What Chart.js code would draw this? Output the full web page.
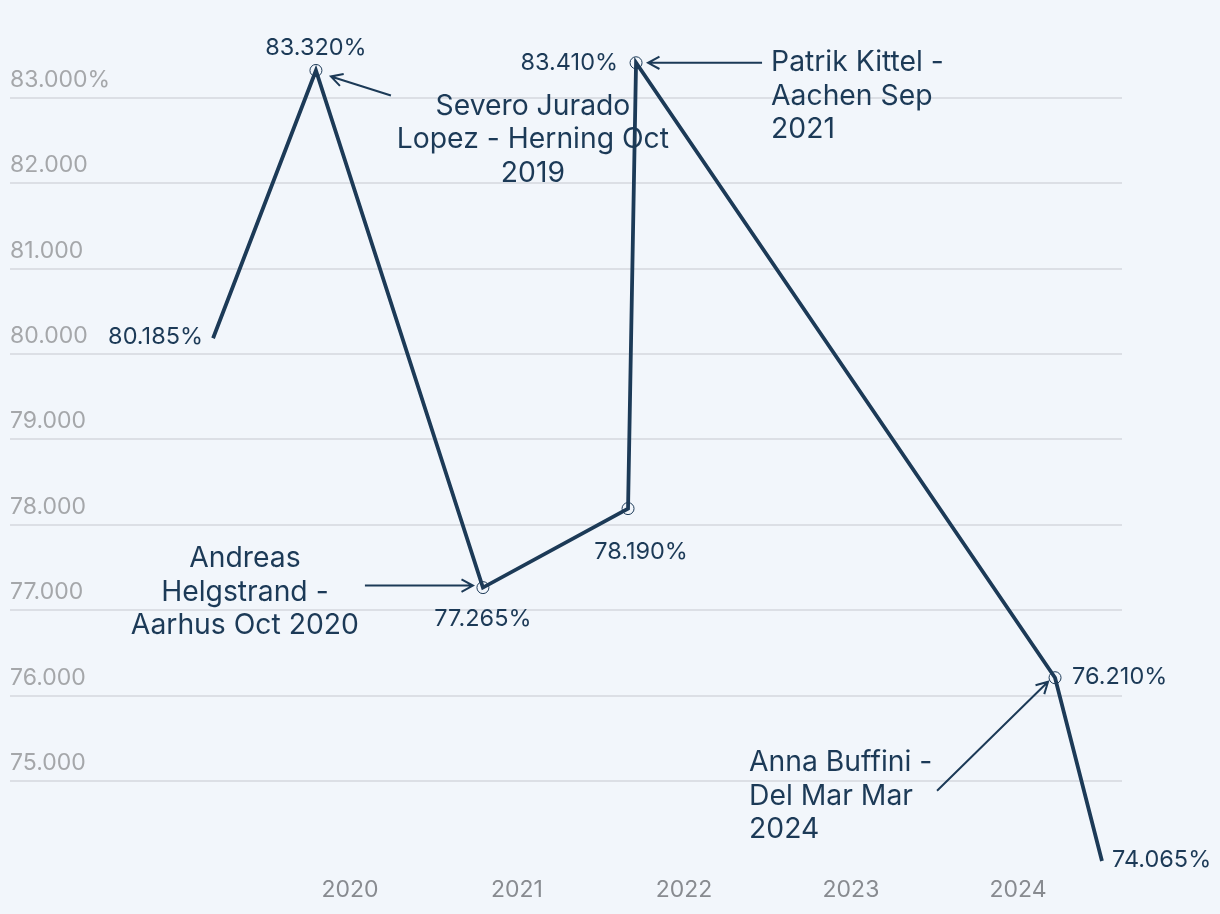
<!DOCTYPE html>
<html>
<head>
<meta charset="utf-8">
<script src="https://cdn.jsdelivr.net/npm/chart.js@4.4.1/dist/chart.umd.min.js"></script>
<style>
  html, body { margin: 0; padding: 0; background: #f2f6fb; }
  #wrap { width: 1220px; height: 914px; position: relative; }
</style>
</head>
<body>
<div id="wrap"><canvas id="scoreChart"></canvas></div>
<script>
// Chart data (decimal years on x)
const dates = [2019.18, 2019.796, 2020.796, 2021.665, 2021.713, 2024.222, 2024.503];
const scores = [80.185, 83.32, 77.265, 78.19, 83.41, 76.21, 74.065];
const yTicks = [75, 76, 77, 78, 79, 80, 81, 82, 83];
const xTicks = [2020, 2021, 2022, 2023, 2024];
const markerRadius = [0, 6, 6, 6, 6, 6, 0];

// Rider annotations: which point, text lines
const noteIndex = [1, 4, 2, 5];
const noteLines = [
  ['Severo Jurado', 'Lopez - Herning Oct', '2019'],
  ['Patrik Kittel -', 'Aachen Sep', '2021'],
  ['Andreas', 'Helgstrand -', 'Aarhus Oct 2020'],
  ['Anna Buffini -', 'Del Mar Mar', '2024']
];

const navy = '#1c3a57';
Chart.defaults.font.family = 'Inter, "Noto Sans", sans-serif';

// where the value label sits, relative to its point
const valuePos = [
  { dx: -10, dy: -1, align: 'right' },
  { dx: 0, dy: -23, align: 'center' },
  { dx: 0, dy: 31, align: 'center' },
  { dx: 13, dy: 43, align: 'center' },
  { dx: -18, dy: 0, align: 'right' },
  { dx: 17, dy: -1, align: 'left' },
  { dx: 10, dy: -1, align: 'left' }
];

// arrow (from -> to) and text block, relative to the annotated point
const noteLayout = [
  { ax: 75, ay: 25, bx: 15, by: 6, tx: 217, ty: 36, align: 'center' },
  { ax: 126, ay: 0, bx: 12, by: 0, tx: 135, ty: 0, align: 'left' },
  { ax: -118, ay: -2, bx: -10, by: -2, tx: -238, ty: -29, align: 'center' },
  { ax: -118, ay: 113, bx: -7, by: 4, tx: -306, ty: 85, align: 'left' }
];

function drawArrow(ctx, x1, y1, x2, y2) {
  const ang = Math.atan2(y2 - y1, x2 - x1);
  const head = 13;
  ctx.beginPath();
  ctx.moveTo(x1, y1);
  ctx.lineTo(x2, y2);
  ctx.moveTo(x2 - head * Math.cos(ang - 0.5), y2 - head * Math.sin(ang - 0.5));
  ctx.lineTo(x2, y2);
  ctx.lineTo(x2 - head * Math.cos(ang + 0.5), y2 - head * Math.sin(ang + 0.5));
  ctx.stroke();
}

const labelPlugin = {
  id: 'labels',
  afterDatasetsDraw(chart) {
    const ctx = chart.ctx;
    const pts = chart.getDatasetMeta(0).data;
    ctx.save();
    ctx.fillStyle = navy;
    ctx.strokeStyle = navy;
    ctx.textBaseline = 'middle';

    // value labels
    ctx.font = '23.5px Inter';
    pts.forEach((p, i) => {
      const v = valuePos[i];
      ctx.textAlign = v.align;
      ctx.fillText(scores[i].toFixed(3) + '%', p.x + v.dx, p.y + v.dy);
    });

    // annotations
    ctx.lineWidth = 2;
    ctx.font = '28.3px Inter';
    noteIndex.forEach((idx, n) => {
      const p = pts[idx];
      const l = noteLayout[n];
      drawArrow(ctx, p.x + l.ax, p.y + l.ay, p.x + l.bx, p.y + l.by);
      ctx.textAlign = l.align;
      noteLines[n].forEach((line, k) => {
        ctx.fillText(line, p.x + l.tx, p.y + l.ty + k * 33.5);
      });
    });
    ctx.restore();
  }
};

new Chart(document.getElementById('scoreChart'), {
  type: 'line',
  data: {
    datasets: [{
      data: dates.map((d, i) => ({ x: d, y: scores[i] })),
      borderColor: navy,
      borderWidth: 3.8,
      pointRadius: markerRadius,
      pointBorderWidth: 1,
      pointBorderColor: navy,
      pointBackgroundColor: 'rgba(0,0,0,0)',
      tension: 0,
      clip: false
    }]
  },
  options: {
    responsive: true,
    maintainAspectRatio: false,
    animation: false,
    layout: { padding: { left: 10, right: 98, top: 38, bottom: 0 } },
    plugins: {
      legend: { display: false },
      tooltip: { enabled: false }
    },
    scales: {
      x: {
        type: 'linear',
        min: 2017.964,
        max: 2024.623,
        afterBuildTicks: s => { s.ticks = xTicks.map(v => ({ value: v })); },
        afterFit: s => { s.height = 39; },
        grid: { display: false },
        border: { display: false },
        ticks: {
          padding: -7,
          color: '#888b90',
          font: { size: 23 },
          callback: v => String(v)
        }
      },
      y: {
        min: 73.9,
        max: 83.7,
        afterBuildTicks: s => { s.ticks = yTicks.map(v => ({ value: v })); },
        afterFit: s => { s.width = 0; },
        grid: { color: '#dcdfe5', lineWidth: 2, drawTicks: false },
        border: { display: false },
        ticks: {
          mirror: true,
          padding: 0,
          labelOffset: -18,
          color: '#a5a7aa',
          font: { size: 23 },
          callback: v => v === 83 ? '83.000%' : v.toFixed(3)
        }
      }
    }
  },
  plugins: [labelPlugin]
});
</script>
</body>
</html>
